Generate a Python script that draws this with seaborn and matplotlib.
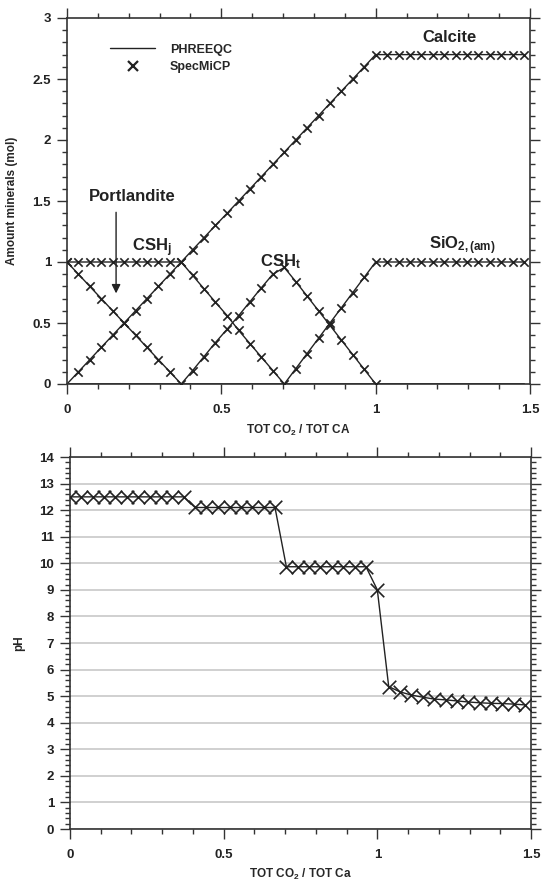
import numpy as np
import pandas as pd
import matplotlib
matplotlib.use("Agg")
import matplotlib.pyplot as plt
import seaborn as sns
from matplotlib.lines import Line2D
from matplotlib.ticker import MultipleLocator, FuncFormatter

# ---------------- data ----------------
x_ratio = [0.000, 0.037, 0.074, 0.111, 0.148, 0.185, 0.222, 0.259, 0.296, 0.333,
           0.370, 0.407, 0.444, 0.481, 0.519, 0.556, 0.593, 0.630, 0.667, 0.704,
           0.741, 0.778, 0.815, 0.852, 0.889, 0.926, 0.963, 1.000, 1.037, 1.074,
           1.111, 1.148, 1.185, 1.222, 1.259, 1.296, 1.333, 1.370, 1.407, 1.444,
           1.481]

portlandite = [1.0, 0.9, 0.8, 0.7, 0.6, 0.5, 0.4, 0.3, 0.2, 0.1,
               0.0, 0.0, 0.0, 0.0, 0.0, 0.0, 0.0, 0.0, 0.0, 0.0,
               0.0, 0.0, 0.0, 0.0, 0.0, 0.0, 0.0, 0.0, 0.0, 0.0,
               0.0, 0.0, 0.0, 0.0, 0.0, 0.0, 0.0, 0.0, 0.0, 0.0,
               0.0]

csh_j = [1.0, 1.0, 1.0, 1.0, 1.0, 1.0, 1.0, 1.0, 1.0, 1.0,
         1.0, 0.89, 0.78, 0.67, 0.56, 0.44, 0.33, 0.22, 0.11, 0.0,
         0.0, 0.0, 0.0, 0.0, 0.0, 0.0, 0.0, 0.0, 0.0, 0.0,
         0.0, 0.0, 0.0, 0.0, 0.0, 0.0, 0.0, 0.0, 0.0, 0.0,
         0.0]

csh_t = [0.0, 0.0, 0.0, 0.0, 0.0, 0.0, 0.0, 0.0, 0.0, 0.0,
         0.0, 0.11, 0.225, 0.34, 0.45, 0.56, 0.675, 0.79, 0.90, 0.955,
         0.84, 0.72, 0.60, 0.48, 0.36, 0.24, 0.12, 0.0, 0.0, 0.0,
         0.0, 0.0, 0.0, 0.0, 0.0, 0.0, 0.0, 0.0, 0.0, 0.0,
         0.0]

sio2_am = [0.0, 0.0, 0.0, 0.0, 0.0, 0.0, 0.0, 0.0, 0.0, 0.0,
           0.0, 0.0, 0.0, 0.0, 0.0, 0.0, 0.0, 0.0, 0.0, 0.0,
           0.125, 0.25, 0.375, 0.5, 0.625, 0.75, 0.875, 1.0, 1.0, 1.0,
           1.0, 1.0, 1.0, 1.0, 1.0, 1.0, 1.0, 1.0, 1.0, 1.0,
           1.0]

calcite = [0.0, 0.1, 0.2, 0.3, 0.4, 0.5, 0.6, 0.7, 0.8, 0.9,
           1.0, 1.1, 1.2, 1.3, 1.4, 1.5, 1.6, 1.7, 1.8, 1.9,
           2.0, 2.1, 2.2, 2.3, 2.4, 2.5, 2.6, 2.7, 2.7, 2.7,
           2.7, 2.7, 2.7, 2.7, 2.7, 2.7, 2.7, 2.7, 2.7, 2.7,
           2.7]

ph = [12.5, 12.5, 12.5, 12.5, 12.5, 12.5, 12.5, 12.5, 12.5, 12.5,
      12.5, 12.1, 12.1, 12.1, 12.1, 12.1, 12.1, 12.1, 12.1, 9.87,
      9.87, 9.87, 9.87, 9.87, 9.87, 9.87, 9.87, 9.0, 5.36, 5.16,
      5.04, 4.96, 4.89, 4.86, 4.82, 4.78, 4.75, 4.73, 4.72, 4.70,
      4.67]

minerals = {"Portlandite": portlandite, "CSH_j": csh_j, "CSH_t": csh_t,
            "SiO2": sio2_am, "Calcite": calcite}

# ---------------- style ----------------
sns.set_style("ticks")
plt.rcParams["font.family"] = ["Liberation Sans", "DejaVu Sans"]
plt.rcParams["font.weight"] = "bold"
plt.rcParams["axes.labelweight"] = "bold"
plt.rcParams["mathtext.fontset"] = "custom"
plt.rcParams["mathtext.rm"] = "Liberation Sans:bold"
plt.rcParams["mathtext.bf"] = "Liberation Sans:bold"
plt.rcParams["mathtext.it"] = "Liberation Sans:bold"
plt.rcParams["mathtext.default"] = "bf"

ink = "#222222"
spine_c = "#333333"

fig = plt.figure(figsize=(5.42, 8.84), dpi=100)
ax1 = fig.add_axes([67 / 542, 1 - 384 / 884, 463 / 542, 366 / 884])
ax2 = fig.add_axes([70 / 542, 1 - 829 / 884, 461 / 542, 372 / 884])

x_arr = np.array(x_ratio)

# ---------------- top panel ----------------
for name, vals in minerals.items():
    v = np.array(vals, dtype=float)
    sns.lineplot(x=x_arr, y=v, ax=ax1, color=ink, linewidth=1.0,
                 estimator=None, sort=False, legend=False)
    prev = np.concatenate([[0.0], v[:-1]])
    show = (v > 0) | (prev > 0)
    sns.scatterplot(x=x_arr[show], y=v[show], ax=ax1, marker="x", s=36,
                    color=ink, linewidth=1.2, legend=False, zorder=3)

ax1.set_xlim(0, 1.5)
ax1.set_ylim(0, 3)

handles = [Line2D([], [], color=ink, lw=1.0),
           Line2D([], [], color=ink, marker="x", ls="", ms=7, mew=1.6)]
ax1.legend(handles, ["PHREEQC", "SpecMiCP"], loc="upper left",
           bbox_to_anchor=(0.093, 0.93), frameon=False, fontsize=9,
           handlelength=3.6, handletextpad=1.2, labelspacing=0.45,
           borderpad=0, borderaxespad=0)

ax1.text(0.21, 1.54, "Portlandite", fontsize=12, ha="center", va="center", color=ink)
ax1.annotate("", xy=(0.159, 0.72), xytext=(0.159, 1.43),
             arrowprops=dict(arrowstyle="-|>", color=ink, lw=1.0, mutation_scale=13))
ax1.text(0.274, 1.12, r"CSH$_\mathbf{j}$", fontsize=12, ha="center", va="center", color=ink)
ax1.text(0.69, 1.0, r"CSH$_\mathbf{t}$", fontsize=12, ha="center", va="center", color=ink)
ax1.text(1.24, 2.84, "Calcite", fontsize=12, ha="center", va="center", color=ink)
ax1.text(1.28, 1.13, r"SiO$_\mathbf{2,(am)}$", fontsize=12, ha="center", va="center", color=ink)

ax1.set_ylabel("Amount minerals (mol)", fontsize=8.5)
ax1.set_xlabel(r"TOT CO$_2$ / TOT CA", fontsize=8.5)
ax1.yaxis.set_label_coords(-0.106, 0.5)
ax1.xaxis.set_label_coords(0.5, -0.105)

ax1.xaxis.set_major_locator(MultipleLocator(0.5))
ax1.xaxis.set_minor_locator(MultipleLocator(0.1))
ax1.yaxis.set_major_locator(MultipleLocator(0.5))
ax1.yaxis.set_minor_locator(MultipleLocator(0.1))

# ---------------- bottom panel ----------------
sns.lineplot(x=x_arr, y=np.array(ph), ax=ax2, color=ink, linewidth=1.0,
             estimator=None, sort=False, legend=False)
sns.scatterplot(x=x_arr, y=np.array(ph), ax=ax2, marker="x", s=95,
                color=ink, linewidth=1.2, legend=False, zorder=3)
ax2.set_xlim(0, 1.5)
ax2.set_ylim(0, 14)
ax2.yaxis.grid(True, color="#d0d0d0", linewidth=1.4)
ax2.set_axisbelow(True)
ax2.xaxis.set_major_locator(MultipleLocator(0.5))
ax2.xaxis.set_minor_locator(MultipleLocator(0.1))
ax2.yaxis.set_major_locator(MultipleLocator(1))
ax2.yaxis.set_minor_locator(MultipleLocator(0.2))
ax2.set_ylabel("pH", fontsize=8.5)
ax2.set_xlabel(r"TOT CO$_2$ / TOT Ca", fontsize=8.5)
ax2.yaxis.set_label_coords(-0.098, 0.5)
ax2.xaxis.set_label_coords(0.5, -0.102)

fmt = FuncFormatter(lambda v, p: f"{v:g}")
for ax in (ax1, ax2):
    ax.xaxis.set_major_formatter(fmt)
    ax.yaxis.set_major_formatter(fmt)
    for sp in ax.spines.values():
        sp.set_visible(True)
        sp.set_color(spine_c)
        sp.set_linewidth(1.2)
    ax.tick_params(which="both", direction="out", top=True, right=True,
                   color=spine_c, width=1.0, labelsize=9.5, labelcolor=ink)
    ax.tick_params(which="major", length=7.5)
    ax.tick_params(which="minor", length=3.6)
    ax.tick_params(axis="x", which="both", pad=7)
    ax.tick_params(axis="y", which="both", pad=4)
    for lab in ax.get_xticklabels() + ax.get_yticklabels():
        lab.set_fontweight("bold")

fig.savefig("out.png", dpi=100)
